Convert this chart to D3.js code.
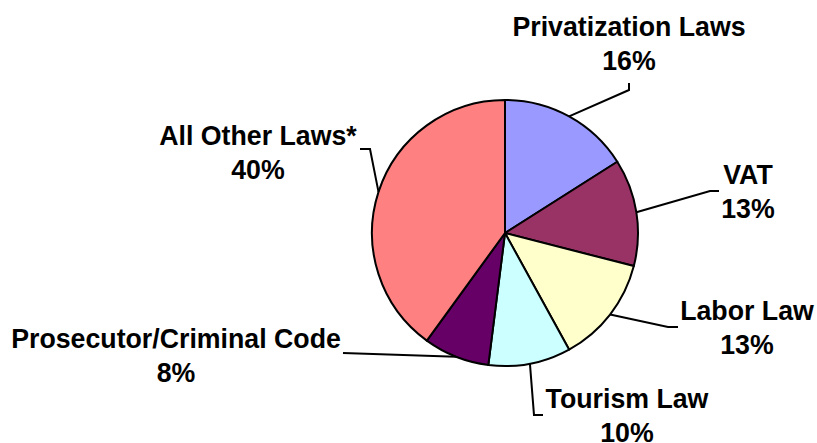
<!DOCTYPE html>
<html>
<head>
<meta charset="utf-8">
<script src="https://cdn.jsdelivr.net/npm/d3@7"></script>
<style>
  html, body { margin: 0; padding: 0; background: #fff; }
  svg { display: block; }
  text { font-family: "Liberation Sans", Arial, sans-serif; font-weight: bold; font-size: 28px; fill: #000; }
</style>
</head>
<body>
<svg id="chart" width="817" height="443"></svg>
<script>
// Share of laws, clockwise from 12 o'clock
const categories = ["Privatization Laws", "VAT", "Labor Law", "Tourism Law", "Prosecutor/Criminal Code", "All Other Laws*"];
const shares = [16, 13, 13, 10, 8, 40];
const colors = ["#9999FF", "#993366", "#FFFFCC", "#CCFFFF", "#660066", "#FF8080"];

// Label placement: text centre and the bend/end points of each leader line
const labelLayout = [
  { x: 629, y: 26, leader: [[629, 90], [629, 83]] },
  { x: 748, y: 174, leader: [[710, 191], [719, 191]] },
  { x: 747, y: 310, leader: [[668, 327], [678, 327]] },
  { x: 627, y: 398, leader: [[534, 415], [543, 415]] },
  { x: 176, y: 338, leader: [[343, 353]] },
  { x: 258, y: 135, leader: [[370, 149], [360, 149]] }
];

const width = 817, height = 443;
const cx = 505, cy = 233, radius = 133;
const lineGap = 34;
const textSqueeze = 0.955; // slightly condensed lettering

const data = categories.map((c, i) => ({ name: c, value: shares[i], color: colors[i], layout: labelLayout[i] }));

const svg = d3.select("#chart");
const g = svg.append("g").attr("transform", `translate(${cx},${cy})`);

const pie = d3.pie().value(d => d.value).sort(null);
const arc = d3.arc().innerRadius(0).outerRadius(radius);
const edge = d3.arc().innerRadius(radius).outerRadius(radius);

const arcs = pie(data);

g.selectAll("path.slice")
  .data(arcs)
  .join("path")
  .attr("class", "slice")
  .attr("d", arc)
  .attr("fill", d => d.data.color)
  .attr("stroke", "#000")
  .attr("stroke-width", 2)
  .attr("stroke-linejoin", "round");

// Leader lines from the rim at each slice's mid-angle
const line = d3.line();
svg.selectAll("path.leader")
  .data(arcs)
  .join("path")
  .attr("class", "leader")
  .attr("d", d => {
    const [ex, ey] = edge.centroid(d);
    const pts = [[cx + ex, cy + ey], ...d.data.layout.leader];
    return line(pts);
  })
  .attr("fill", "none")
  .attr("stroke", "#000")
  .attr("stroke-width", 2);

// Two-line labels: name, then percentage
const fmt = d3.format(".0f");
const labels = svg.selectAll("text.label")
  .data(arcs)
  .join("text")
  .attr("class", "label")
  .attr("text-anchor", "middle")
  .attr("transform", d => `translate(${d.data.layout.x},${d.data.layout.y}) scale(${textSqueeze},1)`);

labels.append("tspan")
  .attr("x", 0)
  .attr("dy", "0.36em")
  .text(d => d.data.name);

labels.append("tspan")
  .attr("x", 0)
  .attr("dy", lineGap)
  .text(d => fmt(d.data.value) + "%");
</script>
</body>
</html>
